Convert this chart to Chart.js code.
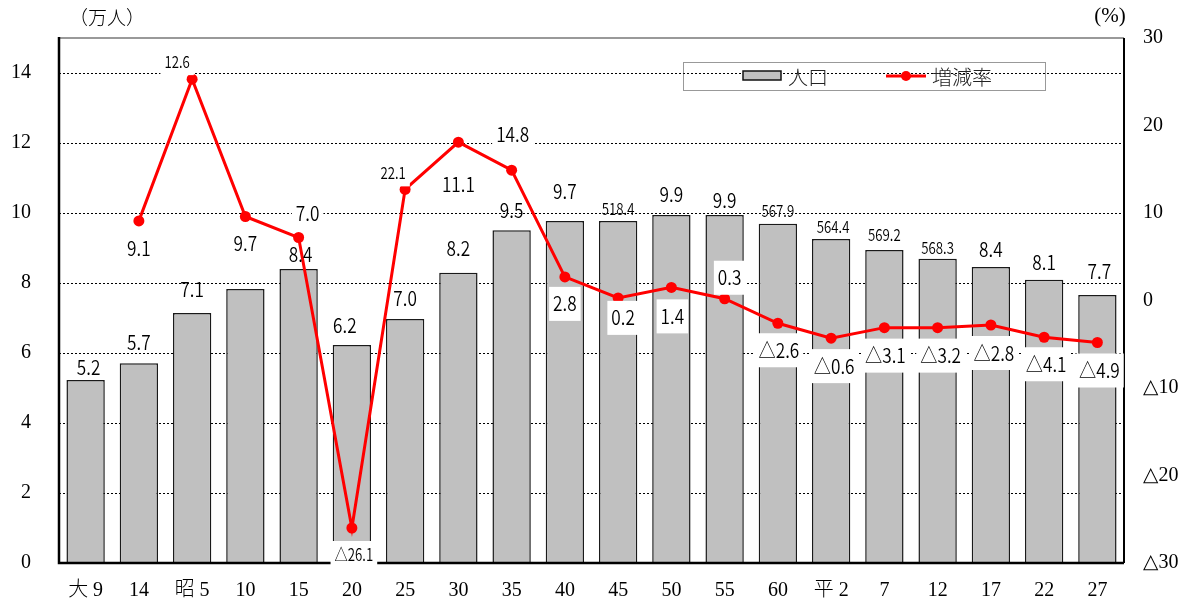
<!DOCTYPE html>
<html><head><meta charset="utf-8">
<script src="https://cdn.jsdelivr.net/npm/chart.js@4.4.0/dist/chart.umd.min.js"></script>
<style>html,body{margin:0;padding:0;background:#fff;} canvas{display:block;}</style>
</head><body>
<canvas id="c" width="1198" height="607"></canvas>
<script>
// ---- data ----
const categories = ['大 9','14','昭 5','10','15','20','25','30','35','40','45','50','55','60','平 2','7','12','17','22','27'];
const population = [5.23,5.71,7.14,7.83,8.40,6.23,6.97,8.29,9.51,9.77,9.77,9.94,9.94,9.69,9.26,8.94,8.69,8.46,8.09,7.66];
const changeRate = [null,9.1,25.3,9.6,7.2,-26.0,12.7,18.1,14.9,2.7,0.3,1.5,0.2,-2.6,-4.3,-3.1,-3.1,-2.8,-4.2,-4.8];
const populationLabels = ['5.2','5.7','7.1','','8.4','6.2','7.0','8.2','9.5','9.7','518.4','9.9','9.9','567.9','564.4','569.2','568.3','8.4','8.1','7.7'];
const changeRateLabels = ['','9.1','12.6','9.7','7.0','△26.1','22.1','11.1','14.8','2.8','0.2','1.4','0.3','△2.6','△0.6','△3.1','△3.2','△2.8','△4.1','△4.9'];
const leftTicks = [0,2,4,6,8,10,12,14];
const rightTicks = [-30,-20,-10,0,10,20,30];
const unitLeft = '（万人）';
const unitRight = '(%)';
const seriesNames = ['人口','増減率'];

// ---- label placement (pixel offsets, styling only) ----
const barLabelPlace = [[3,-13],[0,-21],[0,-24],[0,0],[2,-15],[-7,-20],[0,-21],[0,-24],[0,-20],[0,-30],[0,-13],[0,-21],[0,-15],[0,-13],[2,-12],[0,-16],[0,-11],[0,-17],[0,-17],[2,-23]];
const barLabelSmall = [0,0,0,0,0,0,0,0,0,0,1,0,0,1,1,1,1,0,0,0];
const lineLabelPlace = [[0,0],[0,28],[-15,-18],[0,27],[9,-24],[2,27],[-12,-17],[0,42],[1,-36],[0,27],[5,20],[1,29],[5,-21],[1,27],[3,28],[1,28],[3,28],[3,28],[2,27],[2,28]];
const lineLabelSmall = [0,0,1,0,0,1,1,0,0,0,0,0,0,0,0,0,0,0,0,0];

const LABEL_FONT = '"Noto Sans CJK JP", "Noto Sans", sans-serif';
const TICK_FONT = '"Liberation Serif", "DejaVu Serif", "Noto Sans CJK JP", serif';

function drawCondensed(ctx, text, x, y, size, sx) {
  ctx.save();
  ctx.font = '350 ' + size + 'px ' + LABEL_FONT;
  ctx.textAlign = 'center';
  ctx.textBaseline = 'middle';
  ctx.translate(x, y);
  ctx.scale(sx, 1);
  ctx.fillStyle = '#000';
  ctx.fillText(text, 0, 0);
  ctx.restore();
}

const decorPlugin = {
  id: 'decor',
  beforeDatasetsDraw(chart) {
    const ctx = chart.ctx, a = chart.chartArea, ys = chart.scales.y;
    ctx.save();
    ctx.strokeStyle = '#000';
    ctx.lineWidth = 1;
    ctx.setLineDash([2, 2]);
    leftTicks.forEach(v => {
      if (v === 0) return;
      const y = Math.round(ys.getPixelForValue(v)) + 0.5;
      ctx.beginPath(); ctx.moveTo(a.left, y); ctx.lineTo(a.right, y); ctx.stroke();
    });
    ctx.restore();
  },
  afterDatasetsDraw(chart) {
    const ctx = chart.ctx, a = chart.chartArea;
    ctx.save();
    ctx.strokeStyle = '#777'; ctx.lineWidth = 1.5;
    ctx.beginPath(); ctx.moveTo(a.left, a.top); ctx.lineTo(a.right, a.top); ctx.stroke();
    ctx.strokeStyle = '#000'; ctx.lineWidth = 2;
    ctx.beginPath(); ctx.moveTo(a.right, a.top); ctx.lineTo(a.right, a.bottom); ctx.stroke();
    ctx.lineWidth = 2.5;
    ctx.beginPath(); ctx.moveTo(a.left, a.top - 1); ctx.lineTo(a.left, a.bottom); ctx.lineTo(a.right, a.bottom); ctx.stroke();
    ctx.restore();

    const barMeta = chart.getDatasetMeta(0);
    barMeta.data.forEach((el, i) => {
      const t = populationLabels[i];
      if (!t) return;
      const p = barLabelPlace[i];
      const small = barLabelSmall[i];
      drawCondensed(ctx, t, el.x + p[0], el.y + p[1], small ? 17 : 20, small ? 0.78 : 0.86);
    });

    const lineMeta = chart.getDatasetMeta(1);
    lineMeta.data.forEach((el, i) => {
      const t = changeRateLabels[i];
      if (!t || changeRate[i] === null) return;
      const p = lineLabelPlace[i];
      const small = lineLabelSmall[i];
      const size = small ? 17 : 20;
      const sx = small ? 0.78 : 0.86;
      const x = el.x + p[0], y = el.y + p[1];
      ctx.save();
      ctx.font = '350 ' + size + 'px ' + LABEL_FONT;
      const w = ctx.measureText(t).width * sx + 8;
      const h = small ? 28 : 34;
      ctx.fillStyle = '#fff';
      ctx.fillRect(x - w / 2, y - h / 2, w, h);
      ctx.restore();
      drawCondensed(ctx, t, x, y, size, sx);
    });
  },
  afterDraw(chart) {
    const ctx = chart.ctx;
    ctx.save();
    ctx.fillStyle = '#000';
    ctx.textBaseline = 'middle';
    ctx.textAlign = 'center';
    ctx.font = '300 19px "Noto Sans CJK JP", serif';
    ctx.fillText(unitLeft, 107, 18);
    ctx.font = '21px "Liberation Serif", serif';
    ctx.fillText(unitRight, 1110, 16);

    ctx.strokeStyle = '#333'; ctx.lineWidth = 1; ctx.setLineDash([1, 1]);
    ctx.strokeRect(683.5, 62.5, 362, 28);
    ctx.setLineDash([]);
    ctx.fillStyle = '#c0c0c0';
    ctx.fillRect(743, 71, 38, 9);
    ctx.strokeStyle = '#111'; ctx.lineWidth = 1.5;
    ctx.strokeRect(743, 71, 38, 9);
    ctx.strokeStyle = '#ff0000'; ctx.lineWidth = 3;
    ctx.beginPath(); ctx.moveTo(886, 76); ctx.lineTo(926, 76); ctx.stroke();
    ctx.fillStyle = '#ff0000';
    ctx.beginPath(); ctx.arc(906, 76, 5, 0, Math.PI * 2); ctx.fill();
    ctx.fillStyle = '#222';
    ctx.textAlign = 'left';
    ctx.font = '300 20px "Noto Sans CJK JP", sans-serif';
    ctx.fillText(seriesNames[0], 788, 77);
    ctx.fillText(seriesNames[1], 932, 77);
    ctx.restore();
  }
};

new Chart(document.getElementById('c'), {
  data: {
    labels: categories,
    datasets: [
      {
        type: 'bar', label: seriesNames[0], data: population, yAxisID: 'y', order: 2,
        backgroundColor: '#c0c0c0', borderColor: '#1a1a1a', borderWidth: 1.5,
        categoryPercentage: 1, barPercentage: 0.72
      },
      {
        type: 'line', label: seriesNames[1], data: changeRate, yAxisID: 'y1', order: 1,
        borderColor: '#ff0000', backgroundColor: '#ff0000', borderWidth: 3,
        pointRadius: 5.5, pointBackgroundColor: '#ff0000', pointBorderWidth: 0,
        tension: 0, spanGaps: false
      }
    ]
  },
  options: {
    responsive: false, animation: false, devicePixelRatio: 1,
    layout: { padding: { top: 36, left: 0, right: 0, bottom: 0 } },
    plugins: { legend: { display: false }, tooltip: { enabled: false } },
    scales: {
      x: {
        grid: { display: false, drawTicks: false }, border: { display: false },
        ticks: { color: '#000', font: { family: TICK_FONT, size: 20, weight: 300 }, padding: 16, maxRotation: 0, autoSkip: false },
        afterFit(s) { s.height = 44; }
      },
      y: {
        position: 'left', min: 0, max: 15,
        grid: { display: false, drawTicks: false }, border: { display: false },
        afterBuildTicks(s) { s.ticks = leftTicks.map(v => ({ value: v })); },
        ticks: { color: '#000', font: { family: TICK_FONT, size: 20, weight: 300, lineHeight: 1 }, padding: 28 },
        afterFit(s) { s.width = 59; }
      },
      y1: {
        position: 'right', min: -30, max: 30,
        grid: { display: false, drawTicks: false }, border: { display: false },
        afterBuildTicks(s) { s.ticks = rightTicks.map(v => ({ value: v })); },
        ticks: { color: '#000', font: { family: TICK_FONT, size: 20, weight: 300, lineHeight: 1 }, padding: 19,
          callback: v => v < 0 ? '△' + (-v) : String(v) },
        afterFit(s) { s.width = 74; }
      }
    }
  },
  plugins: [decorPlugin]
});
</script>
</body></html>
